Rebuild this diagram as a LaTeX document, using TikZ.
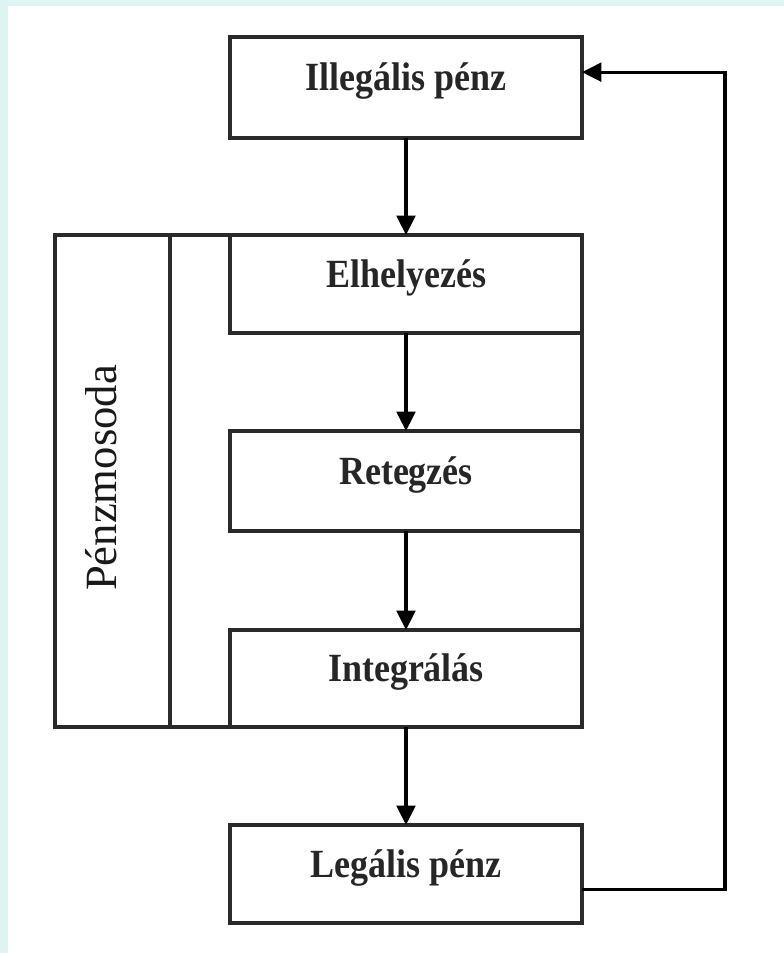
\documentclass[tikz,border=0pt]{standalone}
\usepackage{fontspec}
\setmainfont{Liberation Serif}
\newfontfamily\boxfont{Liberation Serif}[FakeStretch=0.9]
\usetikzlibrary{arrows.meta}
\definecolor{bandc}{HTML}{DDF4F1}
\definecolor{linec}{HTML}{2A2A2A}
\tikzset{
  x=0.75pt, y=-0.75pt,
  ln/.style={draw=linec, line width=2.3pt},
  stepbox/.style={ln, rectangle, inner sep=0pt, outer sep=0pt,
    minimum width=264pt, text height=18pt, text depth=13.5pt,
    font=\boxfont\bfseries\fontsize{30pt}{36pt}\selectfont, text=black!85},
  arr/.style={draw=black, line width=2.3pt, -{Triangle[length=14.5pt,width=14pt]}},
}
\begin{document}
\begin{tikzpicture}
\useasboundingbox (0,0) rectangle (784,953);
\fill[bandc] (0,0) rectangle (784,953);
\fill[white] (8,6) rectangle (784,953);

% Pénzmosoda frame
\coordinate (fTL) at (55,235);
\coordinate (fBR) at (582,727);
\coordinate (sT) at (170,235);
\coordinate (sB) at (170,727);
\draw[ln] (fTL) rectangle (fBR);
\draw[ln] (sT) -- (sB);
\node[rotate=90, font=\fontsize{33.5pt}{40pt}\selectfont, text=black!90] (lab) at (101,478) {Pénzmosoda};

\node[stepbox, minimum height=75.75pt] (ill) at (406,87.5) {Illegális pénz};
\node[stepbox, minimum height=73.5pt] (elh) at (406,284) {Elhelyezés};
\node[stepbox, minimum height=75pt] (ret) at (406,481) {Retegzés};
\node[stepbox, minimum height=72.75pt] (int) at (406,678.5) {Integrálás};
\node[stepbox, minimum height=73.5pt] (leg) at (406,874) {Legális pénz};

\draw[arr] (ill.south) -- (elh.north);
\draw[arr] (elh.south) -- (ret.north);
\draw[arr] (ret.south) -- (int.north);
\draw[arr] (int.south) -- (leg.north);

\coordinate (fbx) at (725,0);
\coordinate (l1) at ([yshift=-11.5pt]leg.east);
\coordinate (i1) at ([yshift=11.5pt]ill.east);
\draw[arr] (l1) -- (l1 -| fbx) -- (i1 -| fbx) -- (i1);
\end{tikzpicture}
\end{document}
